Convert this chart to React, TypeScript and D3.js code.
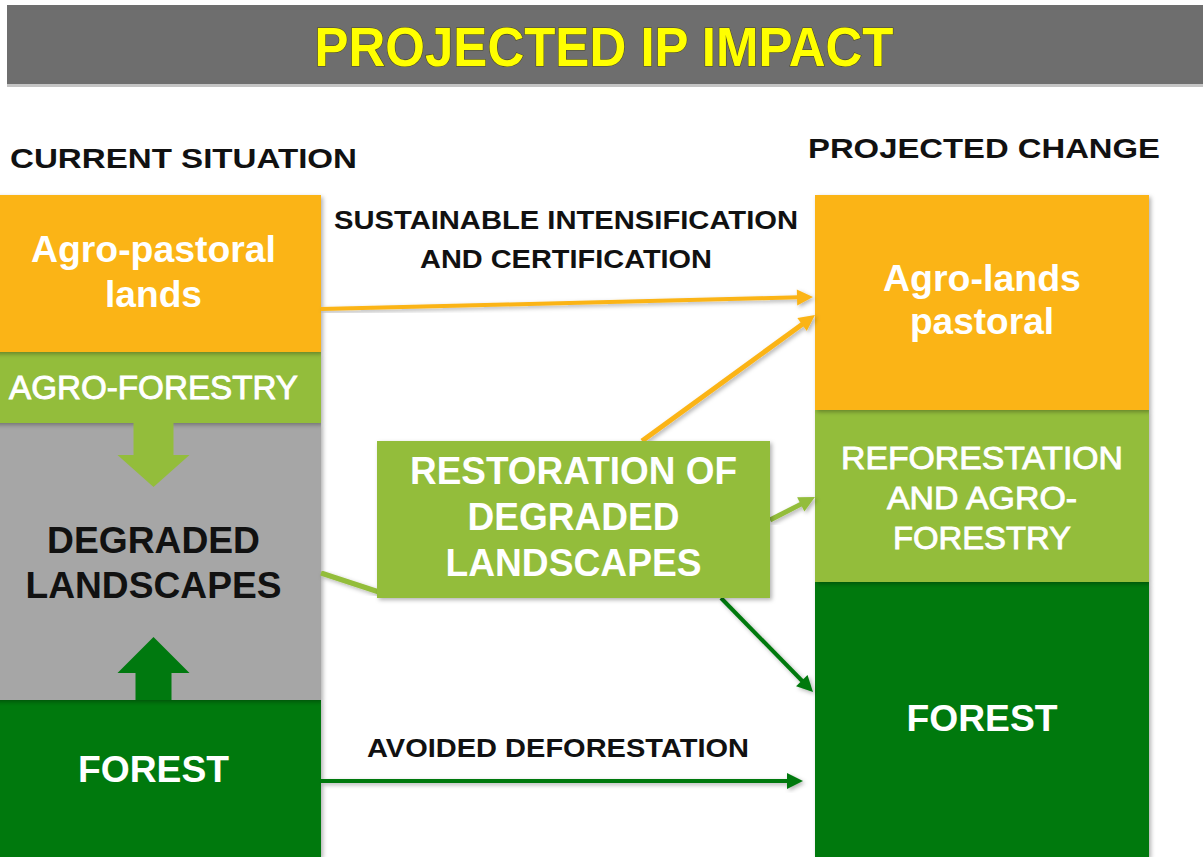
import { useEffect, useRef } from "react";
import * as d3 from "d3";

// labels and block shares
const titleText = "PROJECTED IP IMPACT";
const columnTitles = ["CURRENT SITUATION", "PROJECTED CHANGE"];

const currentLabels = [
  ["Agro-pastoral", "lands"],
  ["AGRO-FORESTRY"],
  ["DEGRADED", "LANDSCAPES"],
  ["FOREST"],
];
const currentShares = [157, 71, 277, 157];

const projectedLabels = [
  ["Agro-lands", "pastoral"],
  ["REFORESTATION", "AND AGRO-", "FORESTRY"],
  ["FOREST"],
];
const projectedShares = [215, 172, 275];

const restorationLabel = ["RESTORATION OF", "DEGRADED", "LANDSCAPES"];
const intensificationLabel = ["SUSTAINABLE INTENSIFICATION", "AND CERTIFICATION"];
const avoidedLabel = ["AVOIDED DEFORESTATION"];

// layout / styles
const W = 1203;
const H = 857;
const FONT = "'Liberation Sans', Arial, sans-serif";
const ORANGE = "#fbb416";
const LIGHT = "#93bd3b";
const GREY = "#a6a6a6";
const DARK = "#00790f";

const textWidths: Record<string, number> = {
  "Agro-pastoral": 245,
  lands: 97,
  "AGRO-FORESTRY": 289,
  DEGRADED: 213,
  LANDSCAPES: 256,
  FOREST: 151,
  "Agro-lands": 198,
  pastoral: 144,
  REFORESTATION: 282,
  "AND AGRO-": 190,
  FORESTRY: 178,
  "RESTORATION OF": 327,
};

const App = () => {
  const ref = useRef<SVGSVGElement>(null);

  useEffect(() => {
    const svg = d3.select(ref.current);
    svg.selectAll("*").remove();

    const defs = svg.append("defs");
    const shadow = defs
      .append("filter")
      .attr("id", "shadow")
      .attr("x", "-10%")
      .attr("y", "-10%")
      .attr("width", "130%")
      .attr("height", "130%");
    shadow
      .append("feDropShadow")
      .attr("dx", 2)
      .attr("dy", 2)
      .attr("stdDeviation", 2)
      .attr("flood-color", "#000")
      .attr("flood-opacity", 0.3);

    // title bar
    svg.append("rect").attr("x", 7).attr("y", 5).attr("width", W - 7).attr("height", 79).attr("fill", "#6e6e6e");
    svg.append("rect").attr("x", 7).attr("y", 84).attr("width", W - 7).attr("height", 3).attr("fill", "#c4c4c4");
    svg
      .append("text")
      .attr("x", 604)
      .attr("y", 66)
      .attr("text-anchor", "middle")
      .attr("textLength", 579)
      .attr("lengthAdjust", "spacingAndGlyphs")
      .style("font-family", FONT)
      .style("font-weight", "bold")
      .style("font-size", "55px")
      .style("fill", "#ffff00")
      .style("stroke", "#4a4a20")
      .style("stroke-width", 1.2)
      .style("paint-order", "stroke")
      .text(titleText);

    // column titles
    const colTitleLayout = [
      { x: 10, y: 168, w: 347 },
      { x: 808, y: 158, w: 352 },
    ];
    columnTitles.forEach((t, i) => {
      svg
        .append("text")
        .attr("x", colTitleLayout[i].x)
        .attr("y", colTitleLayout[i].y)
        .attr("textLength", colTitleLayout[i].w)
        .attr("lengthAdjust", "spacingAndGlyphs")
        .style("font-family", FONT)
        .style("font-size", "28px")
        .style("font-weight", "bold")
        .style("fill", "#111")
        .text(t);
    });

    const y = d3.scaleLinear().domain([0, d3.sum(currentShares)]).range([195, H]);
    const xLeft = d3.scaleLinear().domain([0, 1]).range([-14, 321]);
    const xRight = d3.scaleLinear().domain([0, 1]).range([815, 1149]);

    const stackOf = (shares: number[]) => {
      const ends = d3.cumsum(shares);
      return shares.map((s, i) => ({ y0: ends[i] - s, y1: ends[i] }));
    };

    const drawColumn = (
      shares: number[],
      labels: string[][],
      x: d3.ScaleLinear<number, number>,
      fills: string[],
      textFills: string[],
      weights: string[],
      sizes: number[],
      lineH: number[],
      dys: number[]
    ) => {
      const stack = stackOf(shares);
      const g = svg.append("g");
      // bottom to top so each shadow falls on the block below
      g.selectAll("rect")
        .data(stack.map((s, i) => ({ ...s, i })).reverse())
        .enter()
        .append("rect")
        .attr("x", x(0))
        .attr("y", (d) => y(d.y0))
        .attr("width", x(1) - x(0))
        .attr("height", (d) => y(d.y1) - y(d.y0))
        .attr("fill", (d) => fills[d.i])
        .attr("filter", "url(#shadow)");
      return stack.map((s, i) => ({
        cx: (x(0) + x(1)) / 2,
        top: y(s.y0),
        bottom: y(s.y1),
        draw: () => {
          const lines = labels[i];
          const first =
            (y(s.y0) + y(s.y1)) / 2 - ((lines.length - 1) * lineH[i]) / 2 + sizes[i] * 0.36 + dys[i];
          lines.forEach((ln, j) => {
            const t = svg
              .append("text")
              .attr("x", (x(0) + x(1)) / 2)
              .attr("y", first + j * lineH[i])
              .attr("text-anchor", "middle")
              .style("font-family", FONT)
              .style("font-size", sizes[i] + "px")
              .style("font-weight", weights[i])
              .style("fill", textFills[i])
              .text(ln);
            if (weights[i] === "normal") t.style("stroke", textFills[i]).style("stroke-width", 0.9);
            if (textWidths[ln]) t.attr("textLength", textWidths[ln]).attr("lengthAdjust", "spacingAndGlyphs");
          });
        },
      }));
    };

    const left = drawColumn(
      currentShares,
      currentLabels,
      xLeft,
      [ORANGE, LIGHT, GREY, DARK],
      ["#fff", "#fff", "#111", "#fff"],
      ["bold", "normal", "bold", "bold"],
      [36, 33, 37, 37],
      [45, 0, 45, 0],
      [-2, 0, 1, -10]
    );
    const right = drawColumn(
      projectedShares,
      projectedLabels,
      xRight,
      [ORANGE, LIGHT, DARK],
      ["#fff", "#fff", "#fff"],
      ["bold", "normal", "bold"],
      [36, 32, 37],
      [43, 40, 0],
      [-3, 1, -2]
    );

    // block arrows inside the left column
    const cx = left[1].cx;
    const down = [
      [cx - 20, left[1].bottom],
      [cx + 20, left[1].bottom],
      [cx + 20, left[1].bottom + 32],
      [cx + 36, left[1].bottom + 32],
      [cx, left[1].bottom + 64],
      [cx - 36, left[1].bottom + 32],
      [cx - 20, left[1].bottom + 32],
    ];
    const up = [
      [cx - 18, left[3].top],
      [cx + 18, left[3].top],
      [cx + 18, left[3].top - 27],
      [cx + 36, left[3].top - 27],
      [cx, left[3].top - 63],
      [cx - 36, left[3].top - 27],
      [cx - 18, left[3].top - 27],
    ];
    const lineGen = d3.line();
    svg.append("path").attr("d", lineGen(down as [number, number][]) + "Z").attr("fill", LIGHT);
    svg.append("path").attr("d", lineGen(up as [number, number][]) + "Z").attr("fill", DARK);

    // restoration box
    const rx = d3.scaleLinear().domain([0, 1]).range([377, 770]);
    const ry = d3.scaleLinear().domain([0, 1]).range([441, 598]);

    // connecting arrows
    const arrow = (
      x1: number,
      y1: number,
      x2: number,
      y2: number,
      color: string,
      width: number,
      head: boolean
    ) => {
      const ang = Math.atan2(y2 - y1, x2 - x1);
      const hl = 16;
      const hw = 8;
      const ex = head ? x2 - Math.cos(ang) * (hl - 2) : x2;
      const ey = head ? y2 - Math.sin(ang) * (hl - 2) : y2;
      const g = svg.append("g").attr("filter", "url(#shadow)");
      g.append("line")
        .attr("x1", x1)
        .attr("y1", y1)
        .attr("x2", ex)
        .attr("y2", ey)
        .attr("stroke", color)
        .attr("stroke-width", width);
      if (head) {
        const bx = x2 - Math.cos(ang) * hl;
        const by = y2 - Math.sin(ang) * hl;
        const px = -Math.sin(ang) * hw;
        const py = Math.cos(ang) * hw;
        g.append("path")
          .attr("d", lineGen([[x2, y2], [bx + px, by + py], [bx - px, by - py]]) + "Z")
          .attr("fill", color);
      }
    };

    arrow(xLeft(1), 309, xRight(0) - 2, 297, ORANGE, 4, true);
    arrow(642, ry(0), xRight(0), 315, ORANGE, 5, true);
    arrow(rx(1), 520, xRight(0), 497, LIGHT, 5, true);
    arrow(xLeft(1), 573, rx(0) + 2, 592, LIGHT, 5, false);
    arrow(721, ry(1), xRight(0) - 2, 692, DARK, 4, true);
    arrow(xLeft(1), 781, xRight(0) - 12, 781, DARK, 4, true);

    svg
      .append("rect")
      .attr("x", rx(0))
      .attr("y", ry(0))
      .attr("width", rx(1) - rx(0))
      .attr("height", ry(1) - ry(0))
      .attr("fill", LIGHT)
      .attr("filter", "url(#shadow)");

    restorationLabel.forEach((ln, j) => {
      const t = svg
        .append("text")
        .attr("x", (rx(0) + rx(1)) / 2)
        .attr("y", 484 + j * 46)
        .attr("text-anchor", "middle")
        .style("font-family", FONT)
        .style("font-size", "38px")
        .style("font-weight", "bold")
        .style("fill", "#fff")
        .text(ln);
      const w = ln === "DEGRADED" ? 212 : textWidths[ln];
      if (w) t.attr("textLength", w).attr("lengthAdjust", "spacingAndGlyphs");
    });

    // block labels on top of arrows
    left.forEach((b) => b.draw());
    right.forEach((b) => b.draw());

    // flow captions
    const captionLayout = [
      { x: 566, y: 229, w: 464 },
      { x: 566, y: 268, w: 292 },
      { x: 558, y: 757, w: 382 },
    ];
    [...intensificationLabel, ...avoidedLabel].forEach((ln, i) => {
      svg
        .append("text")
        .attr("x", captionLayout[i].x)
        .attr("y", captionLayout[i].y)
        .attr("text-anchor", "middle")
        .attr("textLength", captionLayout[i].w)
        .attr("lengthAdjust", "spacingAndGlyphs")
        .style("font-family", FONT)
        .style("font-size", "25px")
        .style("font-weight", "bold")
        .style("fill", "#111")
        .text(ln);
    });
  }, []);

  return (
    <svg
      ref={ref}
      width={W}
      height={H}
      style={{ position: "absolute", left: 0, top: 0, background: "#fff", display: "block" }}
    />
  );
};

export default App;
